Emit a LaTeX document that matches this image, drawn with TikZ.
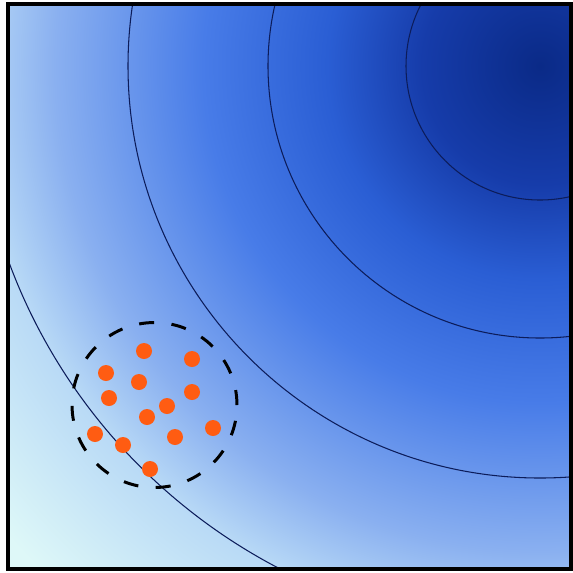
\documentclass[tikz,border=0pt]{standalone}
\usetikzlibrary{backgrounds}

\definecolor{fieldA}{RGB}{10,42,135}
\definecolor{fieldB}{RGB}{22,60,170}
\definecolor{fieldC}{RGB}{42,94,212}
\definecolor{fieldD}{RGB}{72,124,232}
\definecolor{fieldE}{RGB}{138,176,240}
\definecolor{fieldF}{RGB}{185,218,246}
\definecolor{fieldG}{RGB}{222,248,248}
\definecolor{contourblue}{RGB}{12,28,90}
\definecolor{dotorange}{RGB}{255,92,18}

% radial field, 25bp = 740 units (path box = inner 50bp square)
\pgfdeclareradialshading{field}{\pgfpoint{0bp}{0bp}}{%
  color(0bp)=(fieldA); color(4bp)=(fieldB); color(7.2bp)=(fieldC);
  color(11.4bp)=(fieldD); color(16.4bp)=(fieldE); color(19.2bp)=(fieldF);
  color(24bp)=(fieldG); color(50bp)=(fieldG)}

\begin{document}
\begin{tikzpicture}[
  x=0.02cm, y=0.02cm,
  contour/.style={draw=contourblue, line width=0.6pt},
  sample/.style={circle, fill=dotorange, inner sep=0pt, minimum size=0.32cm},
  region/.style={circle, draw=black, line width=1.7pt, inner sep=0pt,
                 minimum size=3.3cm, dash pattern=on 0.3cm off 0.35cm},
  frame/.style={draw=black, line width=2.4pt}
]
\useasboundingbox (0,0) rectangle (573,-572);

% ---- field and its level lines ----
\begin{scope}
  \clip (8,-5) rectangle (571,-569);
  \shade[shading=field] (540,-66) circle (740);
  \foreach \r in {134,272,412,566}
    \draw[contour] (540,-66) circle (\r);
\end{scope}

% ---- sampled region ----
\node[region] (zone) at (154.5,-405) {};
\foreach \x/\y [count=\i] in {144/351, 192/359, 106/373, 139/382, 109/398,
                             192/392, 167/406, 147/417, 213/428, 95/434,
                             175/437, 123/445, 150/469}
  \node[sample] (s\i) at (\x,-\y) {};

\draw[frame] (8,-4) rectangle (571,-569);

\end{tikzpicture}
\end{document}
